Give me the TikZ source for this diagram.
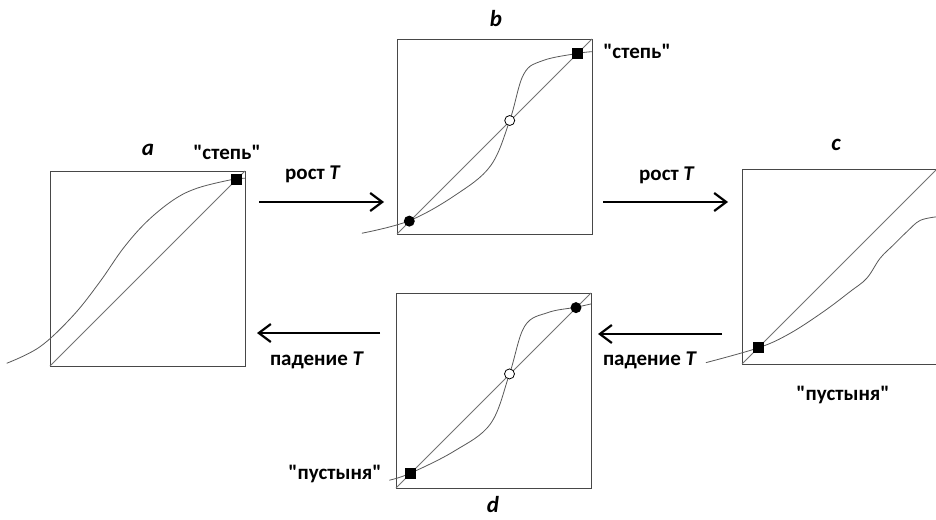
\documentclass[tikz,border=0pt]{standalone}
\usepackage{fontspec}
\setmainfont{Carlito}
\usetikzlibrary{arrows.meta}
\newcommand{\qq}{\textquotedbl}
\tikzset{
  panel/.style={draw=black!72, line width=0.9pt, minimum size=195pt, inner sep=0pt, outer sep=0pt},
  diag/.style={draw=black!55, line width=0.8pt},
  curve/.style={draw=black!65, line width=0.8pt},
  sqmark/.style={fill=black, rectangle, minimum size=11pt, inner sep=0pt},
  dotmark/.style={fill=black, circle, minimum size=11pt, inner sep=0pt},
  openmark/.style={draw=black, fill=white, circle, line width=0.8pt, minimum size=10pt, inner sep=0pt},
  arr/.style={line width=2.2pt, -{Straight Barb[length=12pt,width=18pt,line width=2.2pt]}},
  lbl/.style={font=\fontsize{21}{23}\selectfont\bfseries, inner sep=0pt},
  tag/.style={font=\fontsize{23}{25}\selectfont\bfseries\itshape, inner sep=0pt}
}
\begin{document}
\begin{tikzpicture}[x=1pt,y=-1pt]
\clip (0,0) rectangle (936,519);
\fill[white] (0,0) rectangle (936,519);

% ---------- panel a ----------
\begin{scope}[shift={(50,366)}, x=195pt, y=195pt]
  \node[panel] (A) at (0.5,0.5) {};
  \draw[diag] (A.south west) -- (A.north east);
  \draw[curve] plot[smooth, tension=0.6] coordinates {(-0.222,0.014) (-0.051,0.099) (0.12,0.26) (0.256,0.432) (0.376,0.604) (0.496,0.74) (0.632,0.851) (0.752,0.911) (0.923,0.954) (1,0.963)};
  \node[sqmark] (A1) at (0.954,0.954) {};
\end{scope}

% ---------- panel b ----------
\begin{scope}[shift={(397,234)}, x=195pt, y=195pt]
  \node[panel] (B) at (0.5,0.5) {};
  \draw[diag] (B.south west) -- (B.north east);
  \draw[curve] plot[smooth, tension=0.6] coordinates {(-0.18,0.004) (0.063,0.068) (0.3,0.2) (0.48,0.35) (0.578,0.582) (0.65,0.82) (0.75,0.89) (0.925,0.926) (1,0.935)};
  \node[dotmark] (B1) at (0.063,0.066) {};
  \node[openmark] (B2) at (0.578,0.582) {};
  \node[sqmark] (B3) at (0.925,0.926) {};
\end{scope}

% ---------- panel c ----------
\begin{scope}[shift={(742,364)}, x=195pt, y=195pt]
  \node[panel] (C) at (0.5,0.5) {};
  \draw[diag] (C.south west) -- (C.north east);
  \draw[curve] plot[smooth, tension=0.6] coordinates {(-0.185,0.007) (0.087,0.084) (0.246,0.157) (0.417,0.268) (0.554,0.371) (0.64,0.44) (0.708,0.542) (0.776,0.61) (0.845,0.678) (0.913,0.736) (1,0.755)};
  \node[sqmark] (C1) at (0.087,0.084) {};
\end{scope}

% ---------- panel d ----------
\begin{scope}[shift={(396,488)}, x=195pt, y=195pt]
  \node[panel] (D) at (0.5,0.5) {};
  \draw[diag] (D.south west) -- (D.north east);
  \draw[curve] plot[smooth, tension=0.6] coordinates {(-0.034,0.04) (0.074,0.076) (0.3,0.19) (0.485,0.33) (0.582,0.585) (0.66,0.83) (0.78,0.9) (0.923,0.927) (1,0.944)};
  \node[sqmark] (D1) at (0.074,0.076) {};
  \node[openmark] (D2) at (0.582,0.585) {};
  \node[dotmark] (D3) at (0.923,0.925) {};
\end{scope}

% ---------- arrows ----------
\coordinate (ab1) at (259,202);
\coordinate (ab2) at (384,202);
\coordinate (bc1) at (603,202);
\coordinate (bc2) at (728,202);
\coordinate (cd1) at (722,334);
\coordinate (cd2) at (598,334);
\coordinate (da1) at (380,333);
\coordinate (da2) at (257,333);
\draw[arr] (ab1) -- (ab2);
\draw[arr] (bc1) -- (bc2);
\draw[arr] (cd1) -- (cd2);
\draw[arr] (da1) -- (da2);

% ---------- labels ----------
\node[lbl] (Lab) at (313,174) {рост \textit{T}};
\node[lbl] (Lbc) at (667,175) {рост \textit{T}};
\node[lbl] (Lda) at (317,360) {падение \textit{T}};
\node[lbl] (Lcd) at (650,360) {падение \textit{T}};

\node[tag] (Ta) at (148,150) {a};
\node[tag] (Tb) at (496,19) {b};
\node[tag] (Tc) at (836,145) {c};
\node[tag] (Td) at (493,505) {d};

\node[lbl] (Sa) at (227,152) {\qq степь\qq};
\node[lbl] (Sb) at (637,51) {\qq степь\qq};
\node[lbl] (Pc) at (843,395) {\qq пустыня\qq};
\node[lbl] (Pd) at (335,474) {\qq пустыня\qq};
\end{tikzpicture}
\end{document}
